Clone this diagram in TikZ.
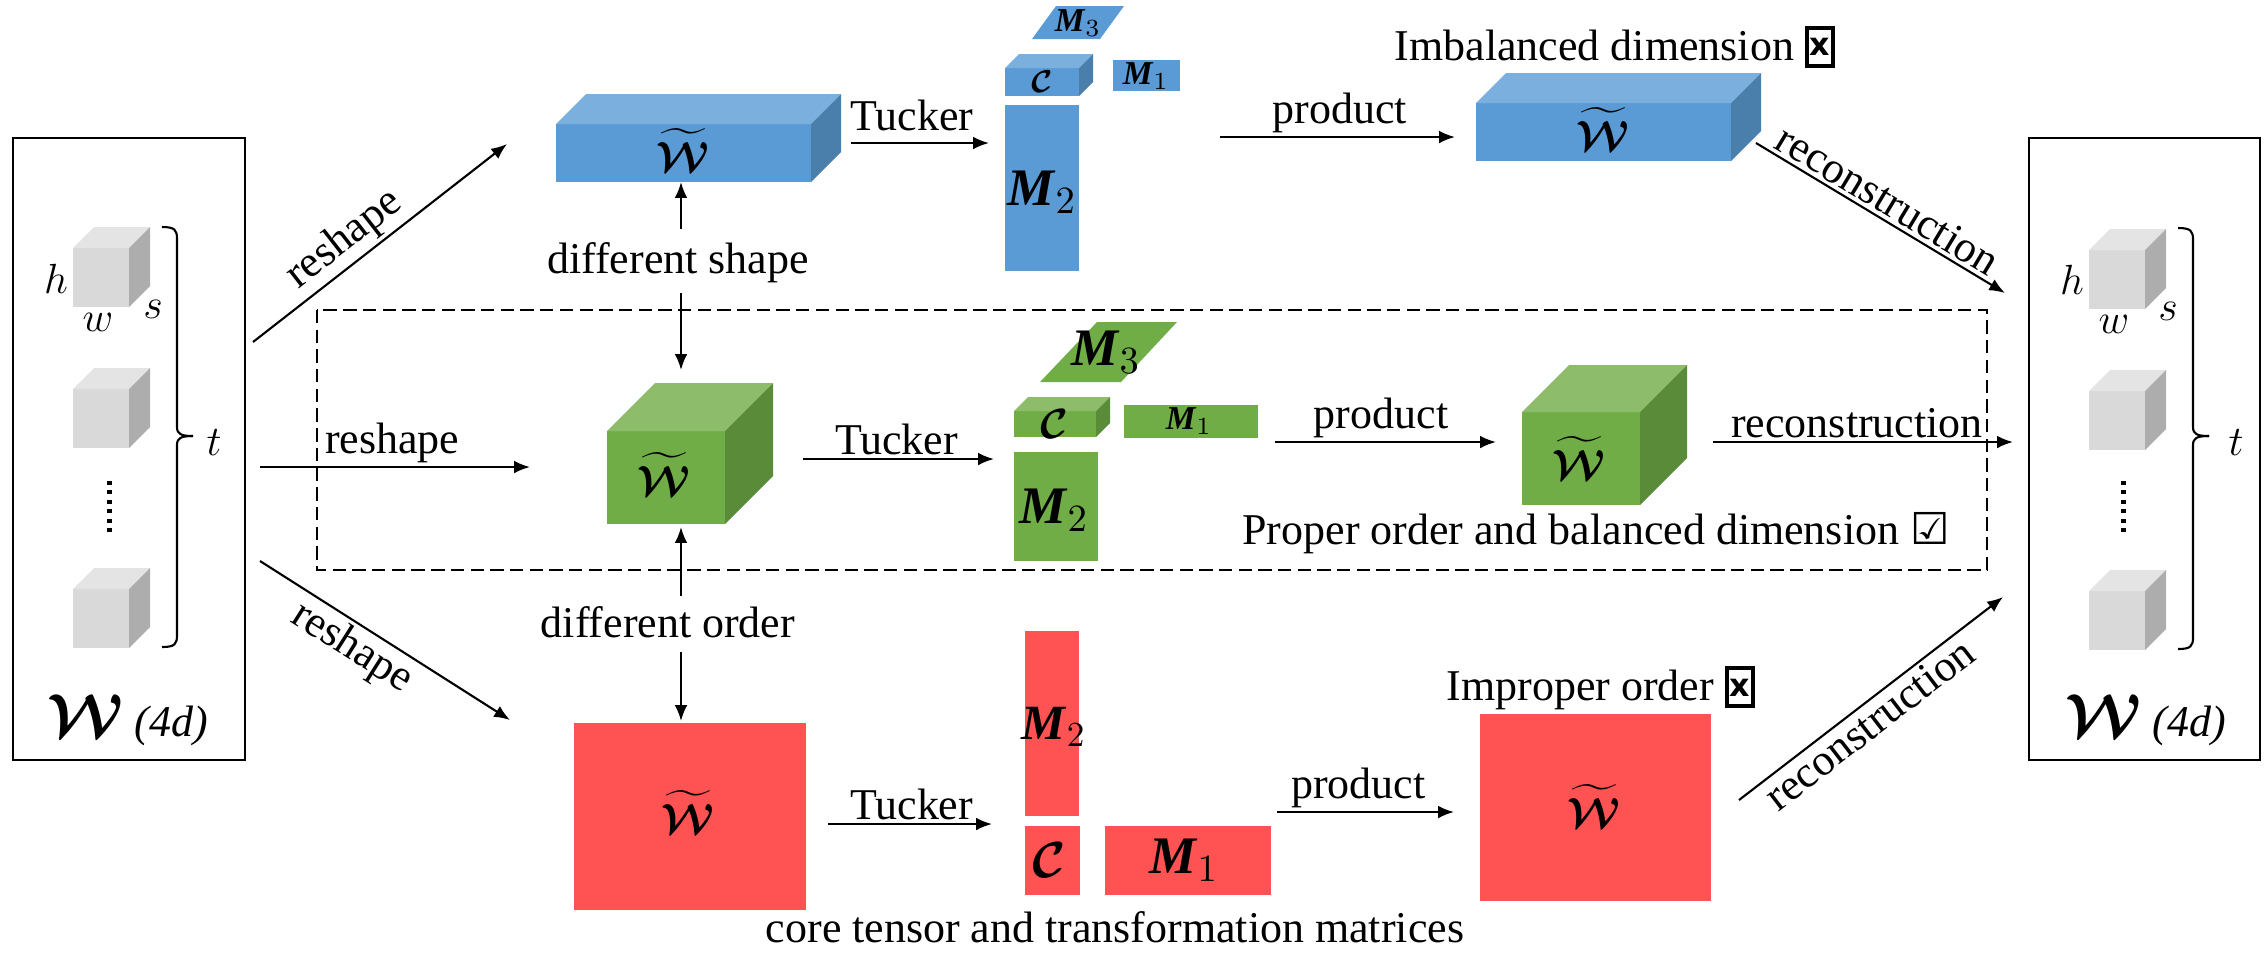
\documentclass[tikz,border=0pt]{standalone}
\usepackage{amsmath}
\usepackage{amssymb}
\usepackage[no-math]{fontspec}
\setmainfont{Liberation Serif}
\newfontfamily\boxfont{DejaVu Sans}
\usepackage{bm}
\usepackage{tikz}
\usetikzlibrary{arrows.meta}
\pgfdeclarelayer{nodelayer}
\pgfdeclarelayer{edgelayer}
\pgfsetlayers{nodelayer,edgelayer,main}

\definecolor{tblue}{HTML}{5B9BD5}
\definecolor{tbluetop}{HTML}{7BAFDD}
\definecolor{tblueside}{HTML}{4A7EAB}
\definecolor{tgreen}{HTML}{70AD47}
\definecolor{tgreentop}{HTML}{8DBD6B}
\definecolor{tgreenside}{HTML}{5A8B39}
\definecolor{tred}{HTML}{FF5252}
\definecolor{tgrey}{HTML}{D9D9D9}
\definecolor{tgreytop}{HTML}{E4E4E4}
\definecolor{tgreyside}{HTML}{ADADAD}

% front corner (#1,#2), width #3, height #4, depth #5, colour #6
\newcommand{\tensorbox}[6]{%
  \fill [#6] (#1,#2) rectangle ++(#3,#4);
  \fill [#6top] (#1,#2) -- ++(#5,-#5) -- ++(#3,0) -- ++(-#5,#5) -- cycle;
  \fill [#6side] (#1+#3,#2) -- ++(#5,-#5) -- ++(0,#4) -- ++(-#5,#5) -- cycle;
}
% right brace: x, top, bottom, tip
\newcommand{\tbrace}[4]{%
  \draw [line width=0.6pt] (#1,#2) .. controls (#1+13,#2) and (#1+15,#2+3) .. (#1+15,#2+12) -- (#1+15,#4-9) .. controls (#1+15,#4-2) and (#1+19,#4) .. (#1+31,#4);
  \draw [line width=0.6pt] (#1+31,#4) .. controls (#1+19,#4) and (#1+15,#4+2) .. (#1+15,#4+9) -- (#1+15,#3-12) .. controls (#1+15,#3-3) and (#1+13,#3) .. (#1,#3);
}
\newcommand{\Wt}{\widetilde{\bm{\mathcal{W}}}}
\newcommand{\Mat}[1]{$\textbf{\textit{M}}_{\mathrm{#1}}$}
\newcommand{\xmark}{{\setlength{\fboxsep}{0.7pt}\setlength{\fboxrule}{1.1pt}%
  \fbox{\makebox[5pt][c]{\rule[-0.4pt]{0pt}{8.2pt}\raisebox{1.2pt}{\boxfont\bfseries\fontsize{9}{9}\selectfont x}}}}}

\begin{document}
\begin{tikzpicture}[x=0.01cm, y=-0.01cm, font=\fontsize{12.5}{15}\selectfont,
    flow/.style={line width=0.6pt, -{Latex[length=4.5pt, width=3.6pt]}},
    frame/.style={draw, line width=0.5pt},
    tag/.style={inner sep=1pt},
    small/.style={font=\fontsize{9.5}{11}\selectfont},
    mid/.style={font=\fontsize{13}{15}\selectfont},
    big/.style={font=\fontsize{12.5}{15}\selectfont},
    huge/.style={font=\fontsize{15}{17}\selectfont}]
  \useasboundingbox (0,0) rectangle (2267,956);
  \begin{pgfonlayer}{nodelayer}
    % 4d weights
    \draw [frame] (13,138) rectangle (245,760);
    \draw [frame] (2029,138) rectangle (2260,760);
    \foreach \y in {248,389,589} {
      \tensorbox{73}{\y}{56}{59}{21}{tgrey}
      \tensorbox{2089}{\y+2}{56}{59}{21}{tgrey}
    }
    \foreach \d in {0,...,5} {
      \fill (107,481+9.4*\d) rectangle ++(5,4);
      \fill (2121,481+9.4*\d) rectangle ++(5,4);
    }
    \tbrace{162}{227}{647}{436}
    \tbrace{2178}{228}{649}{436}
    \node [mid] (hL) at (56,279) {$h$};
    \node [mid] (wL) at (98,322) {$w$};
    \node [mid] (sL) at (153,309) {$s$};
    \node [mid] (tL) at (214,442) {$t$};
    \node [mid] (hR) at (2072,280) {$h$};
    \node [mid] (wR) at (2114,324) {$w$};
    \node [mid] (sR) at (2168,311) {$s$};
    \node [mid] (tR) at (2236,442) {$t$};
    \node (srcW) at (128,720) {{\fontsize{16}{18}\selectfont$\bm{\mathcal{W}}$}\ \textit{(4d)}};
    \node (outW) at (2146,720) {{\fontsize{16}{18}\selectfont$\bm{\mathcal{W}}$}\ \textit{(4d)}};

    % different shape
    \tensorbox{556}{124}{255}{58}{30}{tblue}
    \node [big] (wBlue) at (683,150) {$\Wt$};
    \fill [tblue] (1032,39) -- (1056,6) -- (1124,6) -- (1100,39) -- cycle;
    \node [small] (m3Blue) at (1078,23) {\Mat{3}};
    \tensorbox{1005}{68}{74}{28}{14}{tblue}
    \node [small] (cBlue) at (1042,82) {$\bm{\mathcal{C}}$};
    \fill [tblue] (1113,60) rectangle (1180,91);
    \node [small] (m1Blue) at (1146,76) {\Mat{1}};
    \fill [tblue] (1005,105) rectangle (1079,271);
    \node [huge] (m2Blue) at (1042,192) {\Mat{2}};
    \tensorbox{1476}{103}{255}{58}{30}{tblue}
    \node [big] (wBlueOut) at (1603,129) {$\Wt$};

    % proper order
    \tensorbox{607}{431}{118}{93}{48}{tgreen}
    \node [big] (wGreen) at (664,474) {$\Wt$};
    \fill [tgreen] (1040,382) -- (1097,322) -- (1177,322) -- (1121,382) -- cycle;
    \node [huge] (m3Green) at (1106,352) {\Mat{3}};
    \tensorbox{1014}{411}{82}{26}{14}{tgreen}
    \node [mid] (cGreen) at (1054,424) {$\bm{\mathcal{C}}$};
    \fill [tgreen] (1124,405) rectangle (1258,438);
    \node [small] (m1Green) at (1189,421) {\Mat{1}};
    \fill [tgreen] (1014,452) rectangle (1098,561);
    \node [huge] (m2Green) at (1054,510) {\Mat{2}};
    \tensorbox{1522}{412}{118}{93}{47}{tgreen}
    \node [big] (wGreenOut) at (1579,458) {$\Wt$};

    % different order
    \fill [tred] (574,723) rectangle (806,910);
    \node [big] (wRed) at (688,812) {$\Wt$};
    \fill [tred] (1025,631) rectangle (1079,816);
    \node [font=\fontsize{14}{16}\selectfont] (m2Red) at (1054,727) {\Mat{2}};
    \fill [tred] (1025,826) rectangle (1080,895);
    \node [huge] (cRed) at (1049,860) {$\bm{\mathcal{C}}$};
    \fill [tred] (1105,826) rectangle (1271,895);
    \node [huge] (m1Red) at (1184,860) {\Mat{1}};
    \fill [tred] (1480,714) rectangle (1711,901);
    \node [big] (wRedOut) at (1594,806) {$\Wt$};

    % captions
    \node (shapeTxt) at (678,263) {different shape};
    \node (orderTxt) at (668,622) {different order};
    \node (imbTxt) at (1615,47) {Imbalanced dimension \xmark};
    \node (propTxt) at (1596,533) {Proper order and balanced dimension {\boxfont ☑}};
    \node (impTxt) at (1601,688) {Improper order \xmark};
    \node (coreTxt) at (1115,927) {core tensor and transformation matrices};
    \draw [line width=0.6pt, dash pattern=on 3.8pt off 1.8pt] (317,310) rectangle (1987,570);
  \end{pgfonlayer}
  \begin{pgfonlayer}{edgelayer}
    \coordinate (rsUpA) at (253,342);
    \coordinate (rsUpB) at (507,144);
    \coordinate (rsMidA) at (260,467);
    \coordinate (rsMidB) at (530,467);
    \coordinate (rsLowA) at (260,561);
    \coordinate (rsLowB) at (510,720);
    \coordinate (tkUpA) at (851,143);
    \coordinate (tkUpB) at (989,143);
    \coordinate (tkMidA) at (803,459);
    \coordinate (tkMidB) at (994,459);
    \coordinate (tkLowA) at (828,824);
    \coordinate (tkLowB) at (992,824);
    \coordinate (prUpA) at (1220,137);
    \coordinate (prUpB) at (1455,137);
    \coordinate (prMidA) at (1275,442);
    \coordinate (prMidB) at (1496,442);
    \coordinate (prLowA) at (1277,812);
    \coordinate (prLowB) at (1454,812);
    \coordinate (rcUpA) at (1756,143);
    \coordinate (rcUpB) at (2005,293);
    \coordinate (rcMidA) at (1713,442);
    \coordinate (rcMidB) at (2013,442);
    \coordinate (rcLowA) at (1739,800);
    \coordinate (rcLowB) at (2003,597);
    \coordinate (shTop) at (681,229);
    \coordinate (shBot) at (681,293);
    \coordinate (blueBot) at (681,182);
    \coordinate (greenTop) at (681,370);
    \coordinate (orTop) at (681,596);
    \coordinate (orBot) at (681,652);
    \coordinate (greenBot) at (681,527);
    \coordinate (redTop) at (681,721);

    \draw [flow] (rsUpA) to node [tag, sloped, above, pos=0.42] {reshape} (rsUpB);
    \draw [flow] (rsMidA) to node [tag, above, pos=0.49] {reshape} (rsMidB);
    \draw [flow] (rsLowA) to node [tag, sloped, below, pos=0.42] {reshape} (rsLowB);
    \draw [flow] (tkUpA) to node [tag, above, pos=0.44, yshift=2pt] {Tucker} (tkUpB);
    \draw [flow] (tkMidA) to node [tag, above, pos=0.49] {Tucker} (tkMidB);
    \draw [flow] (tkLowA) to node [tag, above, pos=0.51] {Tucker} (tkLowB);
    \draw [flow] (prUpA) to node [tag, above, pos=0.51] {product} (prUpB);
    \draw [flow] (prMidA) to node [tag, above, pos=0.48] {product} (prMidB);
    \draw [flow] (prLowA) to node [tag, above, pos=0.46] {product} (prLowB);
    \draw [flow] (rcUpA) to node [tag, sloped, above, pos=0.49] {reconstruction} (rcUpB);
    \draw [flow] (rcMidA) to node [tag, above, pos=0.48] {reconstruction} (rcMidB);
    \draw [flow] (rcLowA) to node [tag, sloped, below, pos=0.45] {reconstruction} (rcLowB);
    \draw [flow] (shTop) to (blueBot);
    \draw [flow] (shBot) to (greenTop);
    \draw [flow] (orTop) to (greenBot);
    \draw [flow] (orBot) to (redTop);
  \end{pgfonlayer}
\end{tikzpicture}
\end{document}
